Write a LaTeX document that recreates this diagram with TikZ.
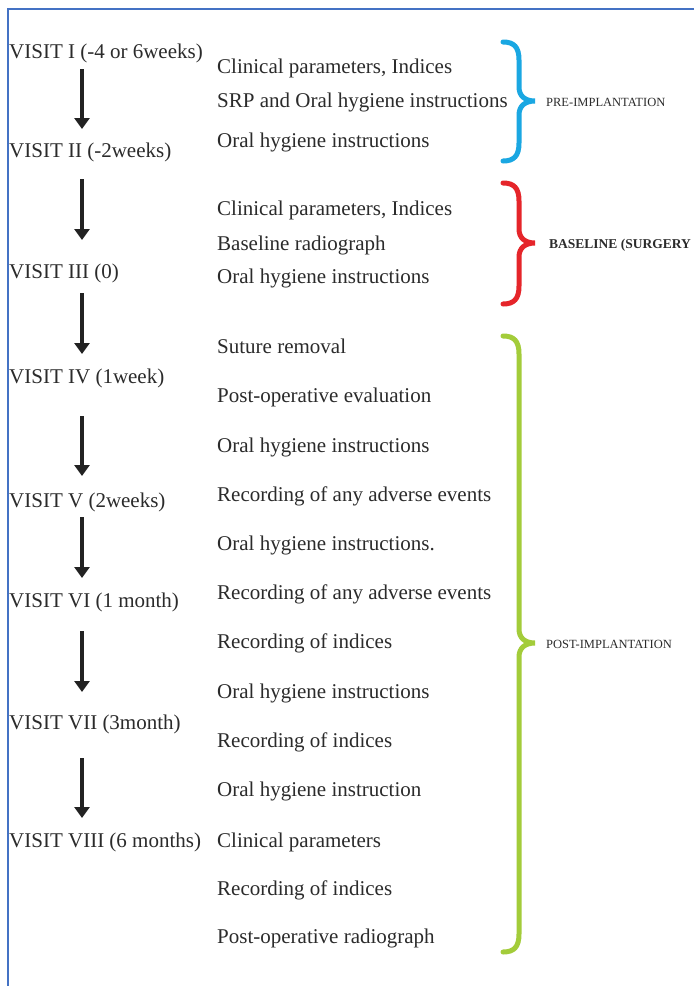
\documentclass[tikz,border=0pt]{standalone}
\usepackage{fontspec}
\setmainfont{Liberation Serif}
\usetikzlibrary{arrows.meta}
\definecolor{txt}{HTML}{2B2B2B}
\definecolor{arrcol}{HTML}{222222}
\definecolor{bluebr}{HTML}{1AA7E2}
\definecolor{redbr}{HTML}{E5252A}
\definecolor{greenbr}{HTML}{A3CC3A}
\definecolor{frame}{HTML}{4472C4}
\tikzset{
  visit/.style={anchor=base west, inner sep=0pt, text=txt, font=\fontsize{21}{25}\selectfont},
  item/.style={anchor=base west, inner sep=0pt, text=txt, font=\fontsize{21}{25}\selectfont},
  phase/.style={anchor=base west, inner sep=0pt, text=txt, font=\fontsize{12.5}{15}\selectfont},
  phasebold/.style={anchor=base west, inner sep=0pt, text=txt, font=\fontsize{13.5}{16}\selectfont\bfseries},
  bigarr/.style={draw=arrcol, line width=4.5pt, -{Triangle[width=15pt,length=11pt]}},
  bracestyle/.style={line width=5pt, line cap=round}
}
\begin{document}
\begin{tikzpicture}[x=1pt,y=-1pt]
\useasboundingbox (0,0) rectangle (694,986);
\fill[white] (0,0) rectangle (694,986);
\draw[frame, line width=1.5pt] (694,9) -- (8,9) -- (8,986);

% visits
\node[visit] (v1) at (9,58) {VISIT I (-4 or 6weeks)};
\node[visit] (v2) at (9,157) {VISIT II (-2weeks)};
\node[visit] (v3) at (9,278) {VISIT III (0)};
\node[visit] (v4) at (9,383) {VISIT IV (1week)};
\node[visit] (v5) at (9,507) {VISIT V (2weeks)};
\node[visit] (v6) at (9,607) {VISIT VI (1 month)};
\node[visit] (v7) at (9,729) {VISIT VII (3month)};
\node[visit] (v8) at (9,847) {VISIT VIII (6 months)};

% arrows
\coordinate (a1s) at (82,69);  \coordinate (a1e) at (82,129);
\coordinate (a2s) at (82,179); \coordinate (a2e) at (82,240);
\coordinate (a3s) at (82,293); \coordinate (a3e) at (82,354);
\coordinate (a4s) at (82,416); \coordinate (a4e) at (82,476);
\coordinate (a5s) at (82,517); \coordinate (a5e) at (82,578);
\coordinate (a6s) at (82,631); \coordinate (a6e) at (82,692);
\coordinate (a7s) at (82,758); \coordinate (a7e) at (82,818);
\foreach \i in {1,...,7} {\draw[bigarr] (a\i s) -- (a\i e);}

% items
\node[item] (r1) at (217,73) {Clinical parameters, Indices};
\node[item] (r2) at (217,107) {SRP and Oral hygiene instructions};
\node[item] (r3) at (217,147) {Oral hygiene instructions};
\node[item] (r4) at (217,215) {Clinical parameters, Indices};
\node[item] (r5) at (217,250) {Baseline radiograph};
\node[item] (r6) at (217,283) {Oral hygiene instructions};
\node[item] (r7) at (217,353) {Suture removal};
\node[item] (r8) at (217,402) {Post-operative evaluation};
\node[item] (r9) at (217,452) {Oral hygiene instructions};
\node[item] (r10) at (217,501) {Recording of any adverse events};
\node[item] (r11) at (217,550) {Oral hygiene instructions.};
\node[item] (r12) at (217,599) {Recording of any adverse events};
\node[item] (r13) at (217,648) {Recording of indices};
\node[item] (r14) at (217,698) {Oral hygiene instructions};
\node[item] (r15) at (217,747) {Recording of indices};
\node[item] (r16) at (217,796) {Oral hygiene instruction};
\node[item] (r17) at (217,847) {Clinical parameters};
\node[item] (r18) at (217,895) {Recording of indices};
\node[item] (r19) at (217,943) {Post-operative radiograph};

% braces
\newcommand{\mybrace}[4]{%
  \draw[bracestyle, #1] (503,#2) .. controls (514,#2) and (519,#2+5) .. (519,#2+18)
    -- (519,#3-14) .. controls (519,#3-5) and (525,#3) .. (535,#3)
    .. controls (525,#3) and (519,#3+5) .. (519,#3+14)
    -- (519,#4-18) .. controls (519,#4-5) and (514,#4) .. (503,#4);}
\mybrace{bluebr}{42}{101}{161}
\mybrace{redbr}{183}{243}{304}
\mybrace{greenbr}{336}{643}{952}

\node[phase] (p1) at (546,106) {PRE-IMPLANTATION};
\node[phasebold] (p2) at (549,248) {BASELINE (SURGERY};
\node[phase] (p3) at (546,648) {POST-IMPLANTATION};
\end{tikzpicture}
\end{document}
